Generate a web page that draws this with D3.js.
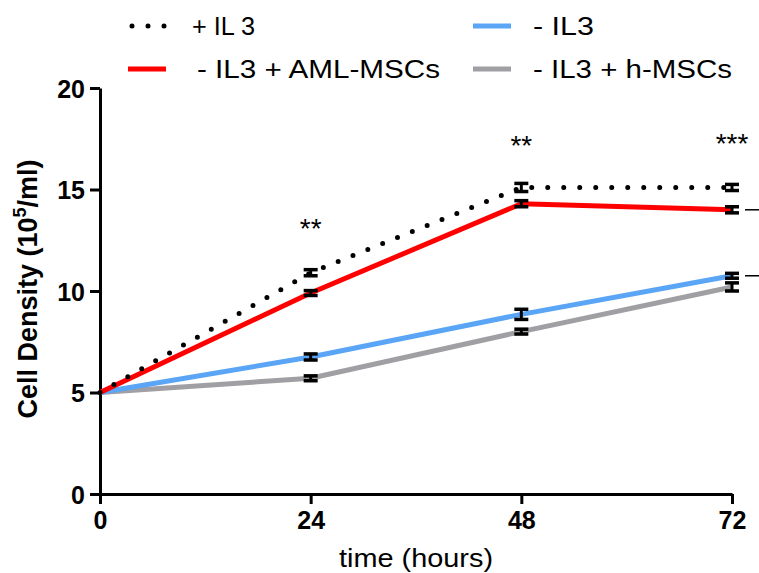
<!DOCTYPE html>
<html>
<head>
<meta charset="utf-8">
<script src="https://cdn.jsdelivr.net/npm/d3@7"></script>
<style>
  body { margin: 0; background: #fff; }
  text { font-family: "Liberation Sans", Arial, sans-serif; }
</style>
</head>
<body>
<div id="chart"></div>
<script>
const hours = [0, 24, 48, 72];
const xTicks = [0, 24, 48, 72];
const yTicks = [0, 5, 10, 15, 20];

// mean cell density per series (10^5/ml) and error bar half-width
const plusIL3 = [5, 10.9, 15.1, 15.1];
const plusIL3Err = [0, 0.15, 0.2, 0.15];
const minusIL3AML = [5, 9.9, 14.3, 14.0];
const minusIL3AMLErr = [0, 0.12, 0.15, 0.15];
const minusIL3 = [5, 6.75, 8.85, 10.75];
const minusIL3Err = [0, 0.15, 0.25, 0.12];
const minusIL3h = [5, 5.7, 8.0, 10.2];
const minusIL3hErr = [0, 0.12, 0.12, 0.2];

const stars = [{x: 24, label: "**", y: 12.6}, {x: 48, label: "**", y: 16.7}, {x: 72, label: "***", y: 16.8}];
const sideMarks = [14.0, 10.75];

const series = [
  {name: "- IL3 + h-MSCs", values: minusIL3h, err: minusIL3hErr, color: "#a0a0a4", dotted: false},
  {name: "- IL3", values: minusIL3, err: minusIL3Err, color: "#5aa5f5", dotted: false},
  {name: "- IL3 + AML-MSCs", values: minusIL3AML, err: minusIL3AMLErr, color: "#ff0000", dotted: false},
  {name: "+ IL 3", values: plusIL3, err: plusIL3Err, color: "#000", dotted: true}
];

const width = 759, height = 573;
const margin = {top: 88, right: 27, bottom: 79, left: 100};

const svg = d3.select('#chart').append('svg')
  .attr('width', width)
  .attr('height', height);

const x = d3.scaleLinear().domain([0, 72]).range([margin.left, width - margin.right]);
const y = d3.scaleLinear().domain([0, 20]).range([height - margin.bottom, margin.top]);

// axes
const xAxis = svg.append('g')
  .attr('transform', `translate(0,${y(0)})`)
  .call(d3.axisBottom(x).tickValues(xTicks).tickSize(10).tickPadding(7).tickSizeOuter(0));
const yAxis = svg.append('g')
  .attr('transform', `translate(${x(0)},0)`)
  .call(d3.axisLeft(y).tickValues(yTicks).tickSize(10).tickPadding(5).tickSizeOuter(0));

[xAxis, yAxis].forEach(a => {
  a.select('.domain').attr('stroke', '#000').attr('stroke-width', 3);
  a.selectAll('.tick line').attr('stroke', '#000').attr('stroke-width', 3);
  a.selectAll('.tick text')
    .attr('fill', '#000')
    .attr('font-size', 25)
    .attr('font-weight', 'bold')
    .attr('font-family', '"Liberation Sans", Arial, sans-serif');
});
yAxis.selectAll('.tick text').attr('dy', '0.36em');

// axis titles
svg.append('text')
  .attr('transform', `translate(37,289) rotate(-90)`)
  .attr('text-anchor', 'middle')
  .attr('font-size', 27)
  .attr('font-weight', 'bold')
  .call(t => {
    t.append('tspan').text('Cell Density (10');
    t.append('tspan').attr('font-size', 18).attr('dy', -11).text('5');
    t.append('tspan').attr('dy', 11).text('/ml)');
  });

svg.append('text')
  .attr('x', (x(0) + x(72)) / 2)
  .attr('y', 567)
  .attr('text-anchor', 'middle')
  .attr('font-size', 26)
  .attr('textLength', 154)
  .attr('lengthAdjust', 'spacingAndGlyphs')
  .text('time (hours)');

// lines
const line = d3.line()
  .x((d, i) => x(hours[i]))
  .y(d => y(d));

const g = svg.append('g');

series.forEach(s => {
  const p = g.append('path')
    .attr('d', line(s.values))
    .attr('fill', 'none');
  if (s.dotted) {
    p.attr('stroke', '#000')
      .attr('stroke-width', 5)
      .attr('stroke-linecap', 'round')
      .attr('stroke-dasharray', '0 16');
  } else {
    p.attr('stroke', s.color).attr('stroke-width', 5);
  }
});

// error bars
series.forEach(s => {
  s.values.forEach((v, i) => {
    if (s.err[i] === 0) return;
    const cx = x(hours[i]);
    const eb = g.append('g').attr('stroke', '#000');
    const y1 = y(v + s.err[i]), y2 = y(v - s.err[i]);
    eb.append('line').attr('x1', cx).attr('x2', cx).attr('y1', y1).attr('y2', y2).attr('stroke-width', 3);
    eb.append('line').attr('x1', cx - 7).attr('x2', cx + 7).attr('y1', y1).attr('y2', y1).attr('stroke-width', 3.5);
    eb.append('line').attr('x1', cx - 7).attr('x2', cx + 7).attr('y1', y2).attr('y2', y2).attr('stroke-width', 3.5);
  });
});

// significance stars
svg.selectAll('.star').data(stars).enter().append('text')
  .attr('class', 'star')
  .attr('x', d => x(d.x))
  .attr('y', d => y(d.y))
  .attr('text-anchor', 'middle')
  .attr('font-size', 28)
  .text(d => d.label);

svg.selectAll('.side-mark').data(sideMarks).enter().append('line')
  .attr('class', 'side-mark')
  .attr('x1', x(72) + 13).attr('x2', x(72) + 28)
  .attr('y1', d => y(d)).attr('y2', d => y(d))
  .attr('stroke', '#000').attr('stroke-width', 1.5);

// legend
const legendItems = [
  {s: series[3], lx: 130, tx: 192, ly: 26, tw: 63},
  {s: series[2], lx: 130, tx: 197, ly: 69, tw: 243},
  {s: series[1], lx: 475, tx: 533, ly: 26, tw: 61},
  {s: series[0], lx: 475, tx: 533, ly: 69, tw: 199}
];

const legend = svg.append('g');
legendItems.forEach(item => {
  const lg = legend.append('g');
  if (item.s.dotted) {
    lg.append('line')
      .attr('x1', item.lx + 2).attr('x2', item.lx + 36)
      .attr('y1', item.ly).attr('y2', item.ly)
      .attr('stroke', '#000').attr('stroke-width', 5)
      .attr('stroke-linecap', 'round')
      .attr('stroke-dasharray', '0 16');
  } else {
    lg.append('line')
      .attr('x1', item.lx - 2).attr('x2', item.lx + 36)
      .attr('y1', item.ly).attr('y2', item.ly)
      .attr('stroke', item.s.color).attr('stroke-width', 5);
  }
  lg.append('text')
    .attr('x', item.tx)
    .attr('y', item.ly + 9)
    .attr('font-size', 25)
    .attr('textLength', item.tw)
    .attr('lengthAdjust', 'spacingAndGlyphs')
    .text(item.s.name);
});
</script>
</body>
</html>
